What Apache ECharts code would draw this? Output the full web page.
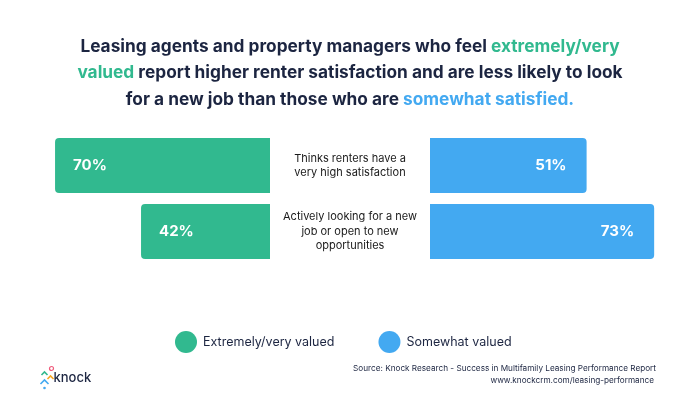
<!DOCTYPE html>
<html><head><meta charset="utf-8">
<script src="https://cdn.jsdelivr.net/npm/echarts@6/dist/echarts.min.js"></script>
<style>html,body{margin:0;padding:0;background:#fff}#c{width:700px;height:394px}</style>
</head><body><div id="c"></div>
<script>
const categories = ['Thinks renters have a\nvery high satisfaction', 'Actively looking for a new\njob or open to new\nopportunities'];
const seriesNames = ['Extremely/very valued', 'Somewhat valued'];
const extremelyValued = [70, 42];
const somewhatValued = [51, 73];
const titleLines = [
  'Leasing agents and property managers who feel {g|extremely/very}',
  '{g|valued} report higher renter satisfaction and are less likely to look',
  'for a new job than those who are {b|somewhat satisfied.}'
];
const sourceLines = [
  'Source: Knock Research - Success in Multifamily Leasing Performance Report',
  'www.knockcrm.com/leasing-performance'
];

const GREEN = '#31b98f', BLUE = '#43a9f1', NAVY = '#1c2541';
const FONT = 'Inter';
const chart = echarts.init(document.getElementById('c'), null, {renderer: 'canvas'});
const pct = v => v + '%';
const TS = 17.3;
const titleRich = {g: {fill: GREEN, fontSize: TS, fontWeight: 'bold', fontFamily: FONT},
                   b: {fill: BLUE, fontSize: TS, fontWeight: 'bold', fontFamily: FONT}};
const titleGraphics = titleLines.map((t, i) => ({
  type: 'text', left: 'center', top: 38 + i * 26.5,
  style: {text: t, fill: NAVY, font: 'bold ' + TS + 'px ' + FONT, rich: titleRich}
}));
const sourceGraphics = sourceLines.map((t, i) => ({
  type: 'text', right: 44 + i * 2, top: 365 + i * 11.5,
  style: {text: t, fill: NAVY, font: '8.2px ' + FONT}
}));
chart.setOption({
  animation: false,
  backgroundColor: '#fff',
  textStyle: {fontFamily: FONT},
  legend: {
    data: seriesNames,
    left: 170, top: 326,
    icon: 'circle', itemWidth: 22, itemHeight: 22, itemGap: 44,
    textStyle: {color: NAVY, fontSize: 12.5, fontFamily: FONT, padding: [0, 0, 0, 1]}
  },
  grid: [
    {left: 39.7, width: 230.3, top: 132.5, height: 132},
    {left: 430, width: 230.3, top: 132.5, height: 132}
  ],
  xAxis: [
    {gridIndex: 0, type: 'value', min: 0, max: 75, inverse: true, show: false},
    {gridIndex: 1, type: 'value', min: 0, max: 75, show: false}
  ],
  yAxis: [
    {gridIndex: 0, type: 'category', data: categories, inverse: true, show: false},
    {gridIndex: 1, type: 'category', data: categories, inverse: true,
     axisLine: {show: false}, axisTick: {show: false},
     axisLabel: {margin: 80, align: 'center', color: '#1a1a1a', fontSize: 11, lineHeight: 14.5, fontFamily: FONT}}
  ],
  series: [
    {name: seriesNames[0], type: 'bar', xAxisIndex: 0, yAxisIndex: 0, data: extremelyValued,
     barWidth: 55, itemStyle: {color: GREEN, borderRadius: [4, 0, 0, 4]},
     label: {show: true, position: 'insideLeft', distance: 18, formatter: p => pct(p.value),
             color: '#fff', fontSize: 15, fontWeight: 'bold', fontFamily: FONT}},
    {name: seriesNames[1], type: 'bar', xAxisIndex: 1, yAxisIndex: 1, data: somewhatValued,
     barWidth: 55, itemStyle: {color: BLUE, borderRadius: [0, 4, 4, 0]},
     label: {show: true, position: 'insideRight', distance: 20, formatter: p => pct(p.value),
             color: '#fff', fontSize: 15, fontWeight: 'bold', fontFamily: FONT}}
  ],
  graphic: titleGraphics.concat(sourceGraphics).concat([
    {type: 'group', left: 38, top: 364, children: [
      {type: 'circle', shape: {cx: 12, cy: 2.5, r: 2}, style: {stroke: '#ef5b7b', fill: 'none', lineWidth: 1.2}},
      {type: 'polyline', shape: {points: [[2, 9], [5, 6], [8, 9]]}, style: {stroke: '#31b98f', fill: 'none', lineWidth: 1.6}},
      {type: 'polyline', shape: {points: [[8, 13], [11, 10], [14, 13]]}, style: {stroke: '#f5a623', fill: 'none', lineWidth: 1.6}},
      {type: 'polyline', shape: {points: [[1, 18], [5, 14], [9, 18]]}, style: {stroke: '#43a9f1', fill: 'none', lineWidth: 1.6}},
      {type: 'circle', shape: {cx: 5, cy: 22, r: 1.3}, style: {fill: '#43a9f1'}},
      {type: 'text', x: 14, y: 6, style: {text: 'knock', fill: NAVY, font: '500 13px ' + FONT}}
    ]}
  ])
});
</script></body></html>
